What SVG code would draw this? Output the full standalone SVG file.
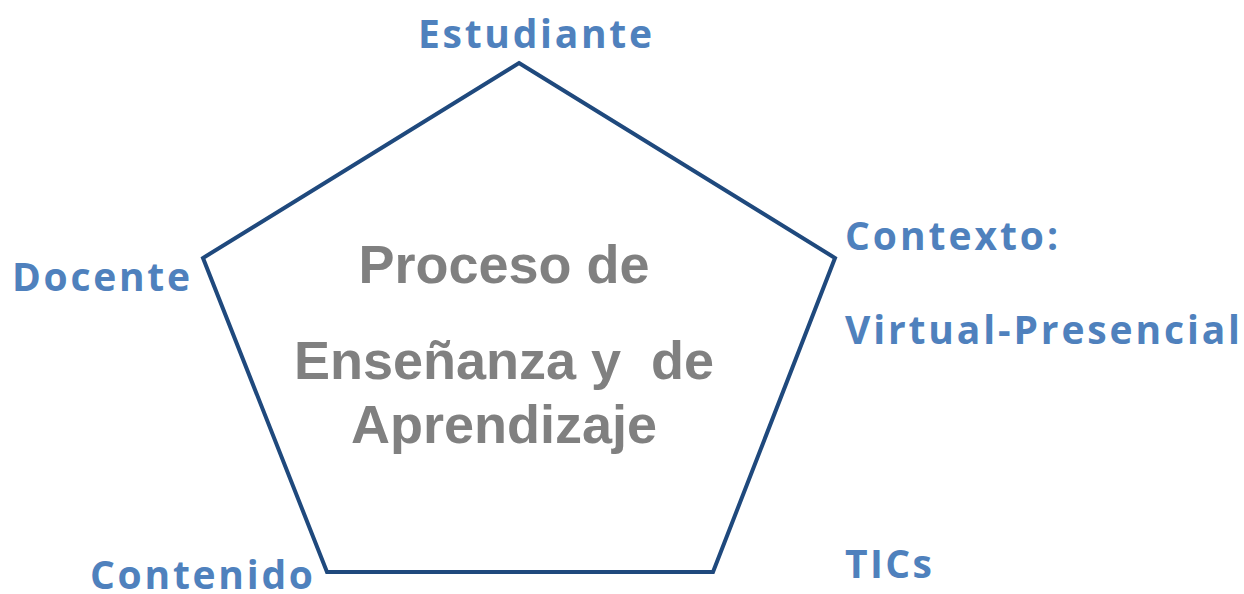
<svg xmlns="http://www.w3.org/2000/svg" width="1244" height="594" viewBox="0 0 1244 594">
<style>
.lbl{font-family:"Open Sans","Noto Sans","Liberation Sans",sans-serif;font-weight:700;font-size:39px;fill:#4F81BD}
.ctr{font-family:"Liberation Sans",Arial,sans-serif;font-weight:700;font-size:54px;fill:#808080;text-anchor:middle}
.pent{fill:none;stroke:#1F497D;stroke-width:4;stroke-linejoin:miter}
</style>
<rect width="1244" height="594" fill="#fff"/>
<g id="connectors">
<polygon class="pent" points="519,63 835,258 713,572 327,572 203,258"/>
</g>
<g id="center">
<text class="ctr" x="504" y="283">Proceso de</text>
<text class="ctr" x="504" y="379" xml:space="preserve">Enseñanza y  de</text>
<text class="ctr" x="504" y="443">Aprendizaje</text>
</g>
<g id="estudiante"><text class="lbl" x="418" y="48" textLength="234" lengthAdjust="spacing">Estudiante</text></g>
<g id="docente"><text class="lbl" x="12" y="291" textLength="178" lengthAdjust="spacing">Docente</text></g>
<g id="contexto">
<text class="lbl" x="845" y="250" textLength="213" lengthAdjust="spacing">Contexto:</text>
<text class="lbl" x="845" y="344" textLength="395" lengthAdjust="spacing">Virtual-Presencial</text>
</g>
<g id="tics"><text class="lbl" x="845" y="578" textLength="87" lengthAdjust="spacing">TICs</text></g>
<g id="contenido"><text class="lbl" x="90" y="589" textLength="223" lengthAdjust="spacing">Contenido</text></g>
</svg>
